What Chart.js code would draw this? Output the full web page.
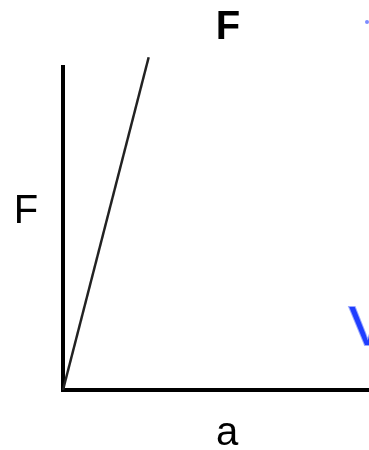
<!DOCTYPE html>
<html>
<head>
<meta charset="utf-8">
<script src="https://cdn.jsdelivr.net/npm/chart.js@4"></script>
<style>
  html, body { margin: 0; padding: 0; background: #fff; }
  canvas { display: block; }
</style>
</head>
<body>
<canvas id="chart" width="369" height="450"></canvas>
<script>
// data: F rises linearly with a
const aValues = [0, 2.8];
const fValues = [0, 10.3];
const axisMax = 10;

// labels
const titleText = 'F';
const yLabel = 'F';
const xLabel = 'a';

// upright axis labels, title and the blue scribbles at the right edge
const labelPlugin = {
    id: 'labels',
    afterDraw(chart) {
        const ctx = chart.ctx;
        const area = chart.chartArea;
        ctx.save();
        ctx.fillStyle = '#000';
        ctx.textAlign = 'center';
        ctx.textBaseline = 'alphabetic';

        ctx.font = 'bold 40px "Liberation Sans", Arial, sans-serif';
        ctx.fillText(titleText, area.left + 165, 39);

        ctx.font = '40px "Liberation Sans", Arial, sans-serif';
        ctx.fillText(yLabel, area.left - 37, 223);
        ctx.fillText(xLabel, area.left + 164, 445);

        ctx.fillStyle = '#1f3dff';
        ctx.strokeStyle = 'rgba(31,61,255,0.45)';
        ctx.lineWidth = 2;
        ctx.font = '56px "Liberation Sans", Arial, sans-serif';
        ctx.textAlign = 'left';
        ctx.strokeText('V', 349, 345);
        ctx.fillText('V', 349, 345);
        ctx.beginPath();
        ctx.arc(367, 22, 2, 0, Math.PI * 2);
        ctx.fillStyle = '#7d8cff';
        ctx.fill();
        ctx.restore();
    }
};

const points = aValues.map((a, i) => ({ x: a, y: fValues[i] }));

new Chart(document.getElementById('chart'), {
    type: 'scatter',
    data: {
        datasets: [{
            data: points,
            showLine: true,
            borderColor: '#222',
            borderWidth: 2.5,
            pointRadius: 0,
            clip: false
        }]
    },
    options: {
        responsive: false,
        animation: false,
        layout: { padding: { left: 55, right: 0, top: 67, bottom: 52 } },
        plugins: { legend: { display: false }, tooltip: { enabled: false } },
        scales: {
            x: {
                type: 'linear', min: 0, max: axisMax,
                ticks: { display: false },
                grid: { display: false },
                border: { color: '#000', width: 4 }
            },
            y: {
                type: 'linear', min: 0, max: axisMax,
                ticks: { display: false },
                grid: { display: false },
                border: { color: '#000', width: 4 }
            }
        }
    },
    plugins: [labelPlugin]
});
</script>
</body>
</html>
